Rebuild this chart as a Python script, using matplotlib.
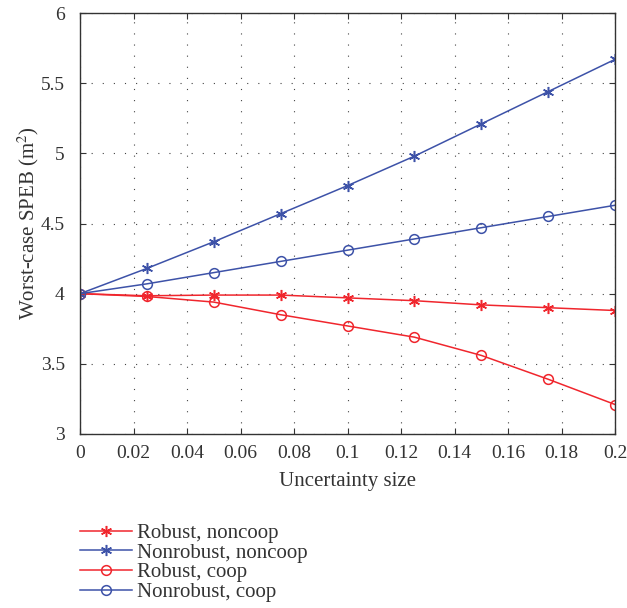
import matplotlib.pyplot as plt
import numpy as np

x_vals = [0, 0.025, 0.05, 0.075, 0.1, 0.125, 0.15, 0.175, 0.2]
robust_noncoop = [4.0, 3.985, 3.99, 3.99, 3.97, 3.95, 3.92, 3.90, 3.88]
nonrobust_noncoop = [4.0, 4.18, 4.37, 4.57, 4.77, 4.98, 5.21, 5.44, 5.67]
robust_coop = [4.0, 3.98, 3.94, 3.85, 3.77, 3.69, 3.56, 3.39, 3.21]
nonrobust_coop = [4.0, 4.07, 4.15, 4.23, 4.31, 4.39, 4.47, 4.55, 4.63]

RED = "#f0262d"
BLUE = "#3d52a8"
TXT = "#333333"
STAR = (6, 2, 0)  # asterisk like matlab '*'


def main() -> None:
    plt.rcParams["font.family"] = ["Liberation Serif", "DejaVu Serif"]
    plt.rcParams["mathtext.fontset"] = "stix"

    fig = plt.figure(figsize=(6.27, 6.08), dpi=100)
    ax = fig.add_axes([0.1276, 0.2862, 0.8534, 0.6924])

    ax.plot(x_vals, robust_noncoop, color=RED, marker=STAR, ms=8, mew=1.1,
            lw=1.1, label="Robust, noncoop")
    ax.plot(x_vals, nonrobust_noncoop, color=BLUE, marker=STAR, ms=8, mew=1.1,
            lw=1.1, label="Nonrobust, noncoop")
    ax.plot(x_vals, robust_coop, color=RED, marker="o", ms=7, mfc="none",
            mew=1.1, lw=1.1, label="Robust, coop")
    ax.plot(x_vals, nonrobust_coop, color=BLUE, marker="o", ms=7, mfc="none",
            mew=1.1, lw=1.1, label="Nonrobust, coop")

    ax.set_xlim(0, 0.2)
    ax.set_ylim(3, 6)
    ax.set_xticks(np.arange(0, 0.2001, 0.02))
    ax.set_xticklabels(["0", "0.02", "0.04", "0.06", "0.08", "0.1",
                        "0.12", "0.14", "0.16", "0.18", "0.2"])
    ax.set_yticks([3, 3.5, 4, 4.5, 5, 5.5, 6])
    ax.set_yticklabels(["3", "3.5", "4", "4.5", "5", "5.5", "6"])
    ax.tick_params(direction="in", top=True, right=True, labelsize=14,
                   colors=TXT, length=4)
    ax.tick_params(axis="x", pad=8)
    ax.tick_params(axis="y", pad=11)
    ax.grid(True, linestyle=(0, (1, 9)), color="#444444", lw=0.8)
    for sp in ax.spines.values():
        sp.set_color("#333333")
        sp.set_linewidth(1.0)

    ax.set_xlabel("Uncertainty size", fontsize=15, color=TXT, labelpad=7)
    ax.set_ylabel("Worst-case SPEB (m$^2$)", fontsize=15, color=TXT, labelpad=0)

    fig.legend(loc="upper left", bbox_to_anchor=(0.1276, 0.139), frameon=False,
               fontsize=15, handlelength=2.5, handletextpad=0.25,
               labelspacing=0.0, borderpad=0, borderaxespad=0, labelcolor=TXT)

    fig.savefig("out.png", dpi=100)


if __name__ == "__main__":
    main()
